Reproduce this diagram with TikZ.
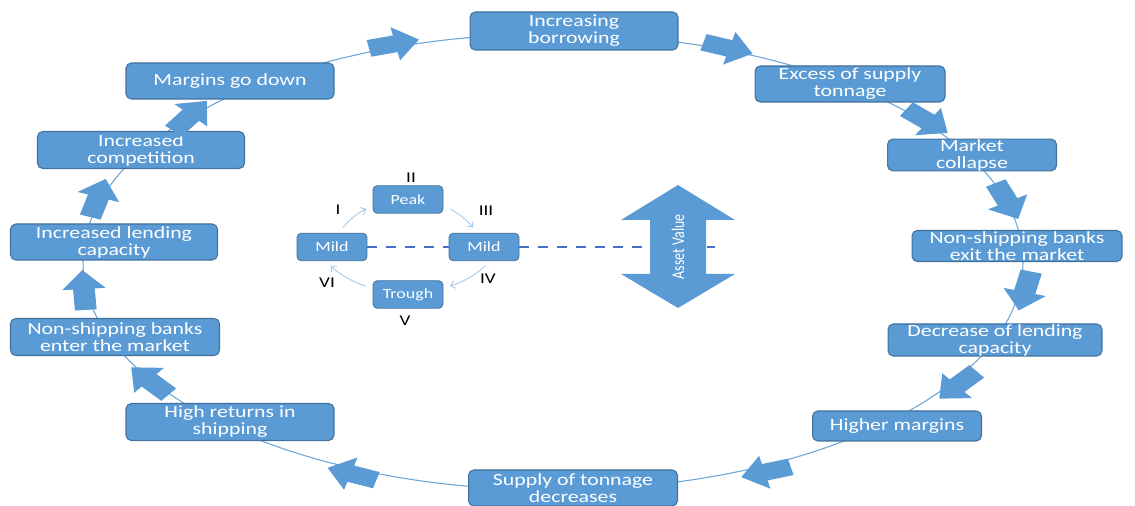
\documentclass[tikz,border=0pt]{standalone}
\usepackage{fontspec}
\setmainfont[FakeStretch=1.28]{Carlito}
\newfontfamily\narrowfont[FakeStretch=0.78]{Carlito}
\usepackage{tikz}
\usetikzlibrary{arrows.meta}
\definecolor{boxblue}{HTML}{5B9BD5}
\definecolor{boxedge}{HTML}{41719C}
\definecolor{dashblue}{HTML}{4472C4}
\colorlet{ringblue}{boxblue!90}
\colorlet{thinblue}{boxblue!60}

\begin{document}
\begin{tikzpicture}[x=0.02cm,y=0.02cm,
  stagebox/.style={draw=boxedge,fill=boxblue,line width=0.6pt,rounded corners=3pt,text=white,align=center,inner sep=0pt,font=\fontsize{9.7}{9.7}\selectfont},
  phasebox/.style={draw=boxedge,fill=boxblue,line width=0.5pt,rounded corners=2.5pt,text=white,minimum width=1.4cm,minimum height=0.55cm,inner sep=1pt,font=\fontsize{8}{8}\selectfont},
  numlabel/.style={inner sep=1pt,font=\fontsize{8.5}{8.5}\selectfont},
  ring/.style={draw=ringblue,line width=0.6pt},
  phasearrow/.style={-{Straight Barb[length=2.5pt,width=4.5pt]},draw=thinblue,line width=0.45pt,bend left=12,shorten <=4pt,shorten >=4pt},
  dashline/.style={dashblue,line width=1.1pt,dash pattern=on 5.7pt off 5pt},
  blockarrow/.pic={\fill[boxblue] (-20,-8.5) -- (1,-8.5) -- (1,-17) -- (20,0) -- (1,17) -- (1,8.5) -- (-20,8.5) -- cycle;}]
\useasboundingbox (0,0) rectangle (1135,506);
% the cycle line behind everything
\draw[ring] (553,244) ellipse [x radius=470, y radius=228];

% small phase cycle in the middle
\node[phasebox] (peak) at (408,306.5) {Peak};
\node[phasebox] (mildl) at (332,259) {Mild};
\node[phasebox] (mildr) at (484,259) {Mild};
\node[phasebox] (trough) at (408,211.5) {Trough};
\coordinate (dashend) at (715,259);
\draw[dashline] (mildl) -- (mildr);
\draw[dashline] (mildr) -- (dashend);
\draw[phasearrow] (mildl.65) to (peak.190);
\draw[phasearrow] (peak.-10) to (mildr.115);
\draw[phasearrow] (mildr.-65) to (trough.10);
\draw[phasearrow] (trough.170) to (mildl.-115);
\node[numlabel] (lblII) at (411,328) {II};
\node[numlabel] (lblI) at (338,296) {I};
\node[numlabel] (lblIII) at (486,295) {III};
\node[numlabel] (lblIV) at (488,227) {IV};
\node[numlabel] (lblVI) at (327,223) {VI};
\node[numlabel] (lblV) at (405,185) {V};

% asset value double arrow
\fill[boxblue] (678,321) -- (735,286) -- (706,286) -- (706,232) -- (735,232) -- (678,198)
  -- (621,232) -- (650,232) -- (650,286) -- (621,286) -- cycle;
\node[rotate=90,text=white,inner sep=0pt,font=\narrowfont\fontsize{10.2}{10.2}\selectfont] (assetlbl) at (678,259) {Asset Value};

% stages of the cycle
\node[stagebox,minimum width=4.16cm,minimum height=0.76cm] (borrow) at (574,475) {Increasing\\borrowing};
\node[stagebox,minimum width=3.8cm,minimum height=0.72cm] (excess) at (850,422) {Excess of supply\\tonnage};
\node[stagebox,minimum width=3.38cm,minimum height=0.6cm] (collapse) at (972,351) {Market\\collapse};
\node[stagebox,minimum width=4.2cm,minimum height=0.62cm] (exitbanks) at (1017,260) {Non-shipping banks\\exit the market};
\node[stagebox,minimum width=4.28cm,minimum height=0.64cm] (declend) at (995,166) {Decrease of lending\\capacity};
\node[stagebox,minimum width=3.38cm,minimum height=0.6cm] (highmarg) at (897,80) {Higher margins};
\node[stagebox,minimum width=4.18cm,minimum height=0.72cm] (supply) at (573,18) {Supply of tonnage\\decreases};
\node[stagebox,minimum width=4.16cm,minimum height=0.74cm] (highret) at (230,84) {High returns in\\shipping};
\node[stagebox,minimum width=4.18cm,minimum height=0.74cm] (enterbanks) at (115,169) {Non-shipping banks\\enter the market};
\node[stagebox,minimum width=4.14cm,minimum height=0.72cm] (inclend) at (114,264) {Increased lending\\capacity};
\node[stagebox,minimum width=4.14cm,minimum height=0.74cm] (compet) at (141,356) {Increased\\competition};
\node[stagebox,minimum width=4.16cm,minimum height=0.72cm] (margdown) at (230,425) {Margins go down};

% block arrows along the cycle (x stretched like the source image)
\foreach \px/\py/\ang in {394/462/12.7, 728/458/-16.5, 927/385/-36.5, 1007/305/-64,
    1025/215/-104, 958/121/-137, 766/34/-165, 352/32/162, 150/125/137,
    84/216/94, 98/308/72.5, 190/390/49}
  \pic[xscale=1.28,rotate=\ang] at (\px,\py) {blockarrow};
\end{tikzpicture}
\end{document}
